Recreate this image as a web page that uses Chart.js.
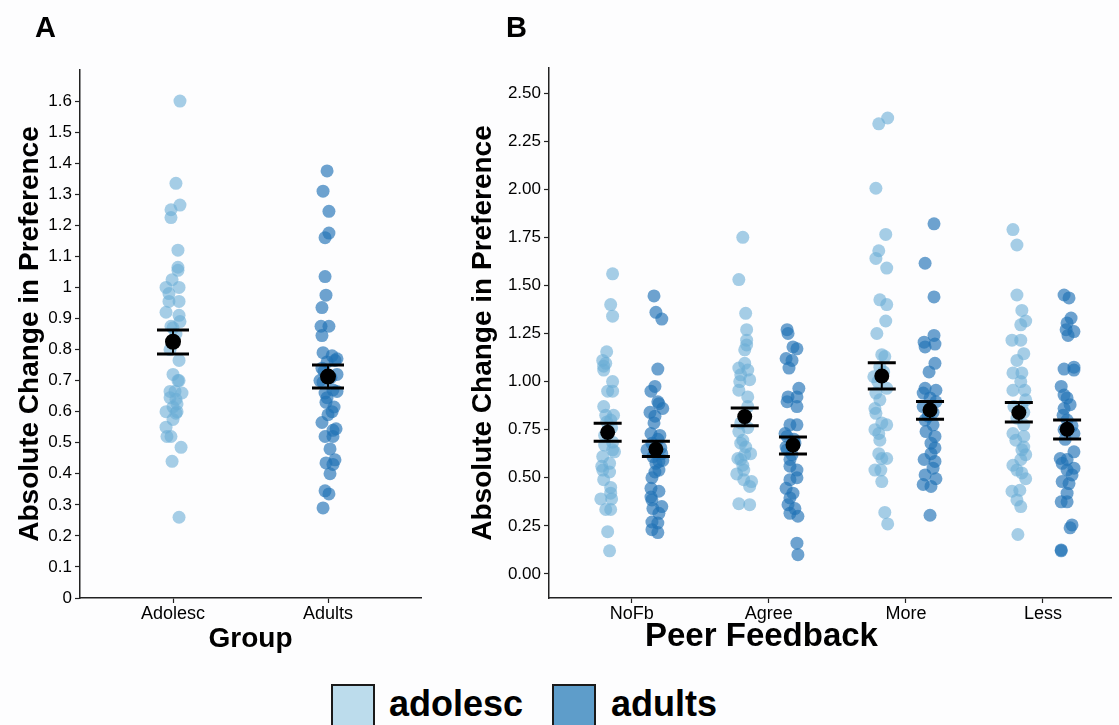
<!DOCTYPE html>
<html>
<head>
<meta charset="utf-8">
<script src="https://cdn.jsdelivr.net/npm/chart.js@4.4.1/dist/chart.umd.min.js"></script>
<style>
  body { margin: 0; background: #fdfdfe; font-family: 'Liberation Sans', Arial, sans-serif; }
  #wrap { position: relative; width: 1119px; height: 725px; overflow: hidden; background: #fdfdfe; }
  .box { position: absolute; top: 0; }
  .panel-label { position: absolute; font-weight: bold; font-size: 29px; line-height: 29px; color: #000; }
  .axis-title { position: absolute; font-weight: bold; font-size: 33px; line-height: 33px; color: #000; white-space: nowrap; }
  .key { position: absolute; top: 684px; width: 40px; height: 44px; border: 2px solid #1a1a1a; }
  .key-text { position: absolute; top: 686px; font-weight: bold; font-size: 36px; line-height: 36px; color: #000; }
</style>
</head>
<body>
<div id="wrap">
  <div class="box" style="left:0;width:430px;height:665px"><canvas id="chartA" width="430" height="665"></canvas></div>
  <div class="box" style="left:440px;width:679px;height:665px"><canvas id="chartB" width="679" height="665"></canvas></div>
  <div class="panel-label" style="left:35px;top:13px">A</div>
  <div class="panel-label" style="left:506px;top:13px">B</div>
  <div class="axis-title" style="left:645px;top:618px">Peer Feedback</div>
  <div class="key" style="left:331px;background:#bcdcec"></div>
  <div class="key-text" style="left:389px">adolesc</div>
  <div class="key" style="left:552px;background:#5e9dca"></div>
  <div class="key-text" style="left:611px">adults</div>
</div>
<script>
// ---- panel A data ----
const groupsA = ['Adolesc', 'Adults']
const adolA = [1.60, 1.335, 1.265, 1.25, 1.225, 1.12, 1.065, 1.055, 1.025, 1.00, 1.00, 0.98, 0.955, 0.955, 0.92, 0.91, 0.89, 0.875, 0.87, 0.85, 0.80, 0.765, 0.72, 0.70, 0.70, 0.665, 0.665, 0.66, 0.645, 0.64, 0.625, 0.615, 0.60, 0.60, 0.595, 0.575, 0.55, 0.52, 0.52, 0.485, 0.44, 0.26]
const adolAJitter = [0.045, 0.019, 0.045, -0.013, -0.013, 0.032, 0.032, 0.032, -0.006, -0.045, 0.039, -0.026, -0.026, 0.039, -0.045, 0.039, 0.045, -0.013, 0, 0.019, -0.019, 0.039, 0, 0.032, 0.039, -0.019, 0.013, 0.058, -0.019, 0.019, 0.026, 0, -0.045, 0.026, 0.019, 0, -0.045, -0.039, -0.013, 0.052, -0.006, 0.039]
const adultA = [1.375, 1.31, 1.245, 1.175, 1.16, 1.035, 0.975, 0.935, 0.875, 0.875, 0.845, 0.79, 0.78, 0.77, 0.765, 0.76, 0.74, 0.73, 0.72, 0.71, 0.70, 0.695, 0.67, 0.665, 0.66, 0.645, 0.63, 0.615, 0.60, 0.59, 0.565, 0.545, 0.54, 0.52, 0.52, 0.48, 0.445, 0.435, 0.43, 0.40, 0.345, 0.335, 0.29]
const adultAJitter = [-0.006, -0.032, 0.006, 0.006, -0.019, -0.019, -0.013, -0.039, -0.045, 0.006, -0.039, -0.032, 0.026, 0.058, 0.045, -0.006, -0.039, -0.026, 0.058, 0.019, -0.052, -0.032, 0.032, 0.058, -0.019, -0.006, -0.013, 0.039, 0.026, 0, -0.039, 0.052, 0.032, -0.019, 0.032, 0.013, 0.045, -0.013, 0.032, 0.013, -0.019, 0.006, -0.032]
const meanA = [0.825, 0.713]
const lowA = [0.786, 0.676]
const highA = [0.863, 0.750]
const ticksA = [0, 0.1, 0.2, 0.3, 0.4, 0.5, 0.6, 0.7, 0.8, 0.9, 1, 1.1, 1.2, 1.3, 1.4, 1.5, 1.6]
const tickLabelsA = ['0', '0.1', '0.2', '0.3', '0.4', '0.5', '0.6', '0.7', '0.8', '0.9', '1', '1.1', '1.2', '1.3', '1.4', '1.5', '1.6']

// ---- panel B data ----
const feedback = ['NoFb', 'Agree', 'More', 'Less']
const adolNoFb = [1.56, 1.40, 1.34, 1.155, 1.11, 1.095, 1.08, 1.06, 1.00, 0.95, 0.95, 0.87, 0.825, 0.825, 0.80, 0.79, 0.76, 0.72, 0.685, 0.67, 0.645, 0.635, 0.61, 0.575, 0.56, 0.54, 0.53, 0.49, 0.45, 0.42, 0.39, 0.39, 0.335, 0.335, 0.22, 0.12]
const adolNoFbJitter = [0.036, 0.022, 0.036, -0.007, -0.036, -0.014, -0.029, -0.029, 0.036, 0, 0.036, -0.029, -0.014, 0.043, 0.022, -0.007, 0.029, -0.022, 0.036, -0.022, 0.036, 0.05, -0.036, 0.014, -0.043, -0.036, 0.014, -0.029, 0.022, 0.022, -0.05, 0.029, -0.014, 0.022, 0, 0.014]
const adultNoFb = [1.445, 1.36, 1.325, 1.065, 0.975, 0.95, 0.895, 0.885, 0.86, 0.84, 0.82, 0.785, 0.73, 0.72, 0.70, 0.68, 0.655, 0.645, 0.625, 0.61, 0.59, 0.585, 0.575, 0.54, 0.53, 0.50, 0.445, 0.43, 0.40, 0.385, 0.35, 0.34, 0.315, 0.27, 0.265, 0.23, 0.215]
const adultNoFbJitter = [-0.014, 0, 0.043, 0.014, -0.007, -0.036, 0.014, 0.022, 0.05, -0.043, -0.007, -0.014, -0.036, 0.029, 0.014, -0.029, 0.036, -0.065, 0.043, -0.022, 0.05, 0.022, 0, 0.022, -0.007, -0.029, -0.036, 0.022, -0.036, -0.029, 0.043, -0.022, 0.022, -0.029, 0.014, -0.029, 0.014]
const adolAgree = [1.75, 1.53, 1.355, 1.27, 1.215, 1.19, 1.165, 1.095, 1.07, 1.06, 1.035, 1.01, 1.00, 0.955, 0.92, 0.87, 0.785, 0.76, 0.74, 0.695, 0.68, 0.66, 0.625, 0.62, 0.60, 0.595, 0.565, 0.54, 0.52, 0.49, 0.48, 0.455, 0.365, 0.36]
const adolAgreeJitter = [-0.014, -0.043, 0.007, 0.014, 0.014, 0.014, 0, 0, -0.043, 0.022, -0.029, 0.036, -0.036, -0.043, 0.022, 0.022, -0.029, 0.022, -0.043, -0.014, -0.029, 0.007, 0.043, 0, -0.05, -0.029, -0.014, -0.007, -0.058, -0.007, 0.05, 0.036, -0.043, 0.036]
const adultAgree = [1.27, 1.25, 1.18, 1.17, 1.12, 1.11, 1.07, 0.965, 0.92, 0.92, 0.895, 0.87, 0.775, 0.775, 0.73, 0.715, 0.70, 0.68, 0.66, 0.645, 0.62, 0.595, 0.56, 0.54, 0.50, 0.49, 0.445, 0.42, 0.395, 0.36, 0.34, 0.315, 0.30, 0.16, 0.10]
const adultAgreeJitter = [-0.043, -0.036, 0, 0.029, -0.05, -0.007, -0.029, 0.043, -0.036, 0.029, -0.043, 0.029, -0.022, 0.029, -0.058, -0.043, 0.007, 0.014, -0.05, -0.043, -0.007, -0.022, -0.022, 0.029, 0.029, -0.022, -0.05, 0, -0.022, -0.036, 0.014, -0.022, 0.036, 0.029, 0.036]
const adolMore = [2.37, 2.34, 2.005, 1.765, 1.68, 1.64, 1.59, 1.425, 1.40, 1.315, 1.25, 1.14, 1.13, 1.075, 1.05, 1.025, 1.00, 0.965, 0.94, 0.905, 0.86, 0.835, 0.785, 0.775, 0.75, 0.73, 0.695, 0.625, 0.60, 0.60, 0.54, 0.54, 0.48, 0.32, 0.26]
const adolMoreJitter = [0.043, -0.022, -0.043, 0.029, -0.022, -0.043, 0.036, -0.014, 0.036, 0.029, -0.036, 0, 0.022, -0.014, 0.014, -0.058, -0.029, 0.036, -0.043, -0.014, -0.05, -0.043, 0, 0.036, -0.05, -0.022, -0.014, -0.022, 0.036, 0, -0.05, -0.007, 0, 0.022, 0.043]
const adultMore = [1.82, 1.615, 1.44, 1.24, 1.205, 1.195, 1.18, 1.095, 1.05, 0.965, 0.955, 0.94, 0.915, 0.895, 0.87, 0.84, 0.82, 0.80, 0.775, 0.74, 0.715, 0.68, 0.655, 0.625, 0.595, 0.585, 0.55, 0.515, 0.495, 0.465, 0.455, 0.305]
const adultMoreJitter = [0.029, -0.036, 0.029, 0.029, -0.043, 0.036, -0.036, 0.036, -0.007, -0.036, 0.043, -0.05, 0, 0.043, -0.05, 0.022, -0.014, -0.036, 0.022, -0.029, 0.036, 0.007, 0.036, 0.007, -0.043, 0.036, 0.022, -0.036, 0.043, -0.05, 0.007, 0]
const adolLess = [1.79, 1.71, 1.45, 1.37, 1.315, 1.295, 1.215, 1.215, 1.145, 1.11, 1.045, 1.045, 1.00, 0.955, 0.955, 0.905, 0.87, 0.87, 0.84, 0.81, 0.775, 0.73, 0.715, 0.695, 0.66, 0.645, 0.62, 0.595, 0.565, 0.54, 0.525, 0.495, 0.435, 0.43, 0.385, 0.35, 0.205]
const adolLessJitter = [-0.043, -0.014, -0.014, 0.022, 0.05, 0.014, -0.05, 0.014, 0.036, -0.014, -0.043, 0.022, 0.014, -0.043, 0.043, 0.05, -0.036, 0.022, 0.036, -0.014, 0.036, -0.043, 0.036, -0.022, 0.036, 0.022, 0.05, 0.014, -0.043, -0.014, 0.022, 0.05, 0.007, -0.05, -0.014, 0.014, -0.007]
const adultLess = [1.45, 1.435, 1.33, 1.305, 1.27, 1.26, 1.24, 1.075, 1.065, 1.06, 0.975, 0.93, 0.915, 0.88, 0.86, 0.825, 0.80, 0.77, 0.75, 0.73, 0.70, 0.635, 0.60, 0.595, 0.575, 0.55, 0.54, 0.515, 0.48, 0.47, 0.42, 0.375, 0.375, 0.255, 0.24, 0.125, 0.12]
const adultLessJitter = [-0.022, 0.014, 0.029, 0, -0.007, 0.05, 0.007, 0.05, -0.022, 0.05, -0.043, -0.022, 0, 0.022, -0.022, -0.029, 0, 0.036, -0.022, 0.05, -0.014, 0.05, -0.05, 0, -0.036, 0.05, 0, 0.036, -0.036, 0.014, 0, -0.043, 0, 0.036, 0.022, -0.043, -0.043]
const meanAdolB = [0.736, 0.818, 1.029, 0.839]
const lowAdolB = [0.690, 0.771, 0.961, 0.790]
const highAdolB = [0.783, 0.863, 1.098, 0.891]
const meanAdultB = [0.648, 0.670, 0.852, 0.752]
const lowAdultB = [0.610, 0.624, 0.804, 0.702]
const highAdultB = [0.690, 0.712, 0.896, 0.800]
const ticksB = [0, 0.25, 0.5, 0.75, 1, 1.25, 1.5, 1.75, 2, 2.25, 2.5]

const adolColor = 'rgba(107, 174, 214, 0.6)'
const adultColor = 'rgba(33, 113, 181, 0.65)'
const fontFamily = "'Liberation Sans', Arial, sans-serif"
const dodge = 0.176

// jittered points for one group at category position pos
const jitterPoints = (values, jitter, pos) => values.map((v, i) => ({ x: pos + (jitter[i] || 0), y: v }))

const errorBars = {
    id: 'errorBars',
    afterDatasetsDraw(chart, args, opts) {
        const { ctx } = chart
        const x = chart.scales.x
        const y = chart.scales.y
        ctx.save()
        ctx.strokeStyle = '#000'
        opts.bars.forEach(b => {
            const px = x.getPixelForValue(b.x)
            const top = y.getPixelForValue(b.hi)
            const bot = y.getPixelForValue(b.lo)
            ctx.lineWidth = 2
            ctx.beginPath()
            ctx.moveTo(px, top)
            ctx.lineTo(px, bot)
            ctx.stroke()
            ctx.lineWidth = 3
            ctx.beginPath()
            ctx.moveTo(px - opts.cap, top)
            ctx.lineTo(px + opts.cap, top)
            ctx.moveTo(px - opts.cap, bot)
            ctx.lineTo(px + opts.cap, bot)
            ctx.stroke()
        })
        ctx.restore()
    }
}

// lower order is drawn on top
const pointSet = (data, color, r, order) => ({
    data: data,
    order: order,
    backgroundColor: color,
    borderWidth: 0,
    pointRadius: r,
    pointHoverRadius: r
})

const yScale = (min, max, ticks, labels, width, titlePad) => ({
    type: 'linear',
    min: min,
    max: max,
    afterBuildTicks: (scale) => { scale.ticks = ticks.map(v => ({ value: v })) },
    afterFit: (scale) => { scale.width = width },
    ticks: {
        callback: (v, i) => labels[i],
        color: '#000',
        font: { family: fontFamily, size: 17 },
        padding: 3
    },
    grid: { drawOnChartArea: false, drawTicks: true, tickLength: 5, tickColor: '#222', tickWidth: 1.2 },
    border: { display: true, color: '#222', width: 1.5 },
    title: {
        display: true,
        text: 'Absolute Change in Preference',
        color: '#000',
        font: { family: fontFamily, size: 28, weight: 'bold' },
        padding: { top: titlePad, bottom: 0 }
    }
})

const xScale = (min, max, cats, title, showTitle) => ({
    type: 'linear',
    min: min,
    max: max,
    afterBuildTicks: (scale) => { scale.ticks = cats.map((c, i) => ({ value: i + 1 })) },
    afterFit: (scale) => { scale.height = 67 },
    ticks: {
        callback: (v, i) => cats[i],
        color: '#000',
        font: { family: fontFamily, size: 18 },
        padding: 0,
        autoSkip: false,
        maxRotation: 0
    },
    grid: { drawOnChartArea: false, drawTicks: true, tickLength: 5, tickColor: '#222', tickWidth: 1.2 },
    border: { display: true, color: '#222', width: 1.5 },
    title: {
        display: showTitle,
        text: title,
        color: '#000',
        font: { family: fontFamily, size: 28, weight: 'bold' },
        padding: { top: 0, bottom: 9 }
    }
})

const commonOptions = {
    responsive: false,
    devicePixelRatio: 1,
    animation: false,
    events: [],
    plugins: { legend: { display: false }, tooltip: { enabled: false } }
}

// ---- panel A ----
new Chart(document.getElementById('chartA').getContext('2d'), {
    type: 'scatter',
    data: {
        datasets: [
            pointSet(jitterPoints(adolA, adolAJitter, 1), adolColor, 6.5, 2),
            pointSet(jitterPoints(adultA, adultAJitter, 2), adultColor, 6.5, 1),
            pointSet(meanA.map((m, i) => ({ x: i + 1, y: m })), '#000', 8, 0)
        ]
    },
    options: {
        ...commonOptions,
        layout: { padding: { top: 70, right: 9, left: 0, bottom: 0 } },
        scales: {
            x: xScale(0.4, 2.6, groupsA, 'Group', true),
            y: yScale(0, 1.7, ticksA, tickLabelsA, 80, 13)
        },
        plugins: {
            ...commonOptions.plugins,
            errorBars: { cap: 16, bars: meanA.map((m, i) => ({ x: i + 1, lo: lowA[i], hi: highA[i] })) }
        }
    },
    plugins: [errorBars]
})

// ---- panel B ----
const adolB = [[adolNoFb, adolNoFbJitter], [adolAgree, adolAgreeJitter], [adolMore, adolMoreJitter], [adolLess, adolLessJitter]]
const adultB = [[adultNoFb, adultNoFbJitter], [adultAgree, adultAgreeJitter], [adultMore, adultMoreJitter], [adultLess, adultLessJitter]]

const adolPointsB = adolB.flatMap(([v, j], i) => jitterPoints(v, j, i + 1 - dodge))
const adultPointsB = adultB.flatMap(([v, j], i) => jitterPoints(v, j, i + 1 + dodge))
const meansB = [
    ...meanAdolB.map((m, i) => ({ x: i + 1 - dodge, y: m })),
    ...meanAdultB.map((m, i) => ({ x: i + 1 + dodge, y: m }))
]
const barsB = [
    ...meanAdolB.map((m, i) => ({ x: i + 1 - dodge, lo: lowAdolB[i], hi: highAdolB[i] })),
    ...meanAdultB.map((m, i) => ({ x: i + 1 + dodge, lo: lowAdultB[i], hi: highAdultB[i] }))
]

// x title of B is off-centre in the original, so it is placed as a page element
new Chart(document.getElementById('chartB').getContext('2d'), {
    type: 'scatter',
    data: {
        datasets: [
            pointSet(adolPointsB, adolColor, 6.5, 2),
            pointSet(adultPointsB, adultColor, 6.5, 1),
            pointSet(meansB, '#000', 7.5, 0)
        ]
    },
    options: {
        ...commonOptions,
        layout: { padding: { top: 68, right: 0, left: 0, bottom: 0 } },
        scales: {
            x: xScale(0.396, 4.5, feedback, 'Peer Feedback', false),
            y: yScale(-0.125, 2.63, ticksB, ticksB.map(v => v.toFixed(2)), 109, 26)
        },
        plugins: {
            ...commonOptions.plugins,
            errorBars: { cap: 14, bars: barsB }
        }
    },
    plugins: [errorBars]
})
</script>
</body>
</html>
